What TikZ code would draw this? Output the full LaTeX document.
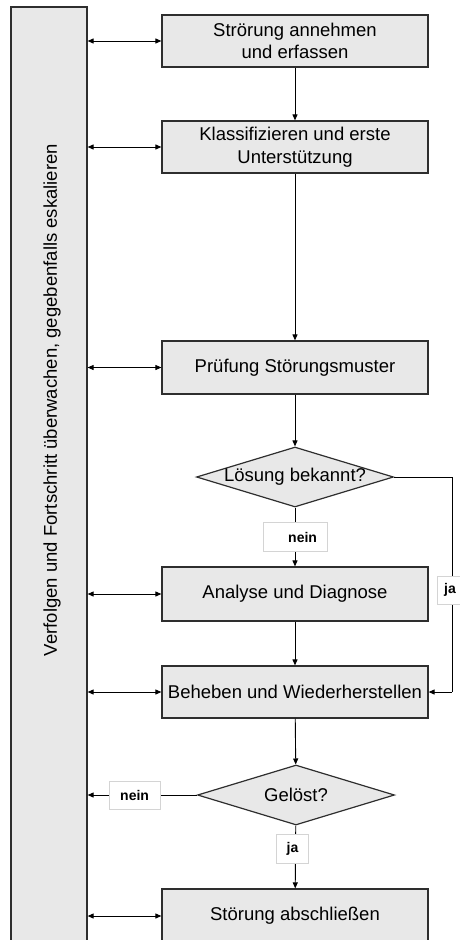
\documentclass[tikz,border=0pt]{standalone}
\usepackage{fontspec}
\setmainfont{Liberation Sans}
\usetikzlibrary{shapes.geometric,arrows.meta,calc}

\definecolor{boxfill}{HTML}{E8E8E8}
\definecolor{boxline}{HTML}{2E2E2E}
\definecolor{tagline}{HTML}{D4D4D4}

\tikzset{
  stepbox/.style={draw=boxline, line width=1.2bp, fill=boxfill,
    minimum width=266bp, inner sep=0pt, align=center,
    font=\fontsize{18.5bp}{22.5bp}\selectfont},
  decision/.style={draw=boxline, line width=1.2bp, fill=boxfill,
    shape=diamond, minimum width=197bp, minimum height=60bp, inner sep=0pt,
    font=\fontsize{18.5bp}{22.5bp}\selectfont},
  track/.style={draw=boxline, line width=1.2bp, fill=boxfill,
    minimum width=76bp, minimum height=940bp, inner sep=0pt},
  tag/.style={draw=tagline, line width=0.6bp, fill=white, inner sep=0pt,
    minimum height=29bp, font=\bfseries\fontsize{14bp}{16bp}\selectfont},
  flow/.style={line width=0.9bp, -{Triangle[length=6bp,width=5bp]}},
  link/.style={line width=0.9bp, {Triangle[length=6bp,width=5bp]}-{Triangle[length=6bp,width=5bp]}},
  plain/.style={line width=0.9bp}
}

\begin{document}
\begin{tikzpicture}[x=1bp, y=-1bp]
  \useasboundingbox (0,0) rectangle (460,940);
  \clip (0,0) rectangle (460,940);

  % side bar with the monitoring task
  \node[track] (bar) at (49,477) {};
  \node[rotate=90, font=\fontsize{18.5bp}{22bp}\selectfont, inner sep=0pt] (bartext) at (52,400)
    {Verfolgen und Fortschritt überwachen, gegebenfalls eskalieren};

  % process steps
  \node[stepbox, minimum height=52bp] (s1) at (295,41) {Strörung annehmen\\und erfassen};
  \node[stepbox, minimum height=52bp] (s2) at (295,147) {Klassifizieren und erste\\Unterstützung};
  \node[stepbox, minimum height=53bp] (s3) at (295,367.5) {Prüfung Störungsmuster};
  \node[decision] (d1) at (295,477) {\makebox[0pt]{Lösung bekannt?}};
  \node[stepbox, minimum height=54bp] (s4) at (295,594) {Analyse und Diagnose};
  \node[stepbox, minimum height=52bp] (s5) at (295,692) {Beheben und Wiederherstellen};
  \node[decision] (d2) at (296,795) {\makebox[0pt]{Gelöst?}};
  \node[stepbox, minimum height=54bp] (s6) at (295,916) {Störung abschließen};

  % main flow
  \draw[flow] (s1) -- (s2);
  \draw[flow] (s2) -- (s3);
  \draw[flow] (s3) -- (d1);
  \draw[flow] (d1) -- node[tag, minimum width=64bp, text width=44bp, align=right, inner xsep=10bp] (nein1) {nein} (s4);
  \draw[flow] (s4) -- (s5);
  \draw[flow] (s5) -- (d2);
  \draw[flow] (d2) -- node[tag, pos=0.37, minimum width=32bp, xshift=-3bp] (ja2) {ja} (s6);

  % shortcut when the solution is known
  \coordinate (jaTop) at (452,477);
  \coordinate (jaBot) at (452,692);
  \draw[plain] (d1.east) -- (jaTop) -- (jaBot);
  \draw[flow] (jaBot) -- (s5.east);
  \node[tag, minimum width=26bp, minimum height=28bp] (ja1) at (450,590) {ja};

  % not solved: back to monitoring
  \coordinate (back) at (bar.east |- d2.west);
  \draw[flow] (d2.west) -- node[tag, pos=0.57, minimum width=51bp, minimum height=28bp] (nein2) {nein} (back);

  % links between monitoring and each step
  \foreach \s in {s1,s2,s3,s4,s5,s6}
    \draw[link] (bar.east |- \s.west) -- (\s.west);
\end{tikzpicture}
\end{document}
